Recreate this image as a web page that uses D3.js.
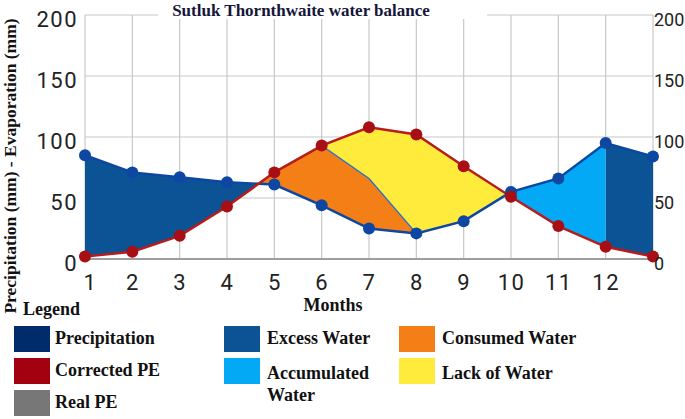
<!DOCTYPE html>
<html lang="en">
<head>
  <meta charset="UTF-8">
  <title>Sutluk Thornthwaite water balance</title>
  <script src="https://d3js.org/d3.v7.min.js"></script>
  <style>
    body { margin: 0; background: white; }
    .serif { font-family: "Liberation Serif", "DejaVu Serif", serif; font-weight: bold; }
    .tick text { font-family: Roboto, sans-serif; font-size: 22px; fill: #222; letter-spacing: 1.5px; }
    .right .tick text { font-size: 18px; letter-spacing: 0; }
  </style>
</head>
<body>
<script>
  // month 13 closes the year again at January
  var months = [1, 2, 3, 4, 5, 6, 7, 8, 9, 10, 11, 12, 13];
  var monthLabels = [1, 2, 3, 4, 5, 6, 7, 8, 9, 10, 11, 12];
  var yTicks = [0, 50, 100, 150, 200];

  var precipitation = [85, 71, 67, 63, 61, 44, 25, 21, 31, 55, 66, 95, 84];
  var correctedPE   = [2, 6, 19, 43, 71, 93, 108, 102, 76, 51, 27, 10, 2];
  var realPE        = [2, 6, 19, 43, 71, 93, 66, 21, 31, 51, 27, 10, 2];
  var deficitMonths = [6, 7, 8];

  var excessRanges = [[1, 6], [12, 13]];
  var accumulatedRanges = [[6, 12]];

  var legendItems = [
    { label: ["Precipitation"], color: "#002c6b", col: 0, row: 0 },
    { label: ["Corrected PE"], color: "#a30010", col: 0, row: 1 },
    { label: ["Real PE"], color: "#777777", col: 0, row: 2 },
    { label: ["Excess Water"], color: "#0b5394", col: 1, row: 0 },
    { label: ["Accumulated", "Water"], color: "#03a9f4", col: 1, row: 1 },
    { label: ["Consumed Water"], color: "#f57f17", col: 2, row: 0 },
    { label: ["Lack of Water"], color: "#ffeb3b", col: 2, row: 1 }
  ];

  var width = 685, height = 419;
  var svg = d3.select("body").append("svg")
    .attr("width", width)
    .attr("height", height);

  var x = d3.scaleLinear().domain([1, 13]).range([85, 653]);
  var y = d3.scaleLinear().domain([0, 200]).range([259, 15]);

  var data = months.map((m, i) => ({ m: m, p: precipitation[i], pe: correctedPE[i], real: realPE[i] }));

  // grid
  var grid = svg.append("g").attr("stroke", "#c8c8c8").attr("stroke-width", 1.2);
  grid.selectAll("line.h").data(yTicks.slice(1)).enter().append("line")
    .attr("x1", x(1)).attr("x2", x(13))
    .attr("y1", d => y(d)).attr("y2", d => y(d));
  grid.selectAll("line.v").data(months).enter().append("line")
    .attr("x1", d => x(d)).attr("x2", d => x(d))
    .attr("y1", y(200)).attr("y2", y(0));

  // clip helpers
  var defs = svg.append("defs");
  function areaBelow(key) {
    return d3.area().x(d => x(d.m)).y0(y(0) + 5).y1(d => y(d[key]))(data);
  }
  function areaAbove(key) {
    return d3.area().x(d => x(d.m)).y0(0).y1(d => y(d[key]))(data);
  }
  defs.append("clipPath").attr("id", "aboveP").append("path").attr("d", areaAbove("p"));
  defs.append("clipPath").attr("id", "abovePE").append("path").attr("d", areaAbove("pe"));
  defs.append("clipPath").attr("id", "aboveReal").append("path").attr("d", areaAbove("real"));

  function rangeClip(id, ranges) {
    defs.append("clipPath").attr("id", id).selectAll("rect").data(ranges).enter().append("rect")
      .attr("x", d => x(d[0])).attr("width", d => x(d[1]) - x(d[0]))
      .attr("y", 0).attr("height", height);
  }
  rangeClip("excessRange", excessRanges);
  rangeClip("accumRange", accumulatedRanges);

  // excess water
  svg.append("g").attr("clip-path", "url(#excessRange)")
    .append("path").attr("d", areaBelow("p")).attr("clip-path", "url(#abovePE)")
    .attr("fill", "#0b5394");

  // accumulated water
  svg.append("g").attr("clip-path", "url(#accumRange)")
    .append("path").attr("d", areaBelow("p")).attr("clip-path", "url(#abovePE)")
    .attr("fill", "#03a9f4");

  // consumed water
  svg.append("path").attr("d", areaBelow("real")).attr("clip-path", "url(#aboveP)")
    .attr("fill", "#f57f17");

  // lack of water
  svg.append("g").attr("clip-path", "url(#aboveP)")
    .append("path").attr("d", areaBelow("pe")).attr("clip-path", "url(#aboveReal)")
    .attr("fill", "#ffeb3b");

  // x axis line
  svg.append("line")
    .attr("x1", x(1)).attr("x2", x(13))
    .attr("y1", y(0)).attr("y2", y(0))
    .attr("stroke", "#9e9e9e").attr("stroke-width", 2);

  // real PE line
  svg.append("path")
    .datum(data.filter(d => deficitMonths.includes(d.m)))
    .attr("fill", "none")
    .attr("stroke", "#1e6fd0")
    .attr("stroke-width", 1.3)
    .attr("d", d3.line().x(d => x(d.m)).y(d => y(d.real)));

  // lines
  svg.append("path").datum(data)
    .attr("fill", "none").attr("stroke", "#0d47a1").attr("stroke-width", 2.5)
    .attr("d", d3.line().x(d => x(d.m)).y(d => y(d.p)));
  svg.append("path").datum(data)
    .attr("fill", "none").attr("stroke", "#b71c1c").attr("stroke-width", 2.5)
    .attr("d", d3.line().x(d => x(d.m)).y(d => y(d.pe)));

  svg.selectAll("circle.p").data(data).enter().append("circle")
    .attr("cx", d => x(d.m)).attr("cy", d => y(d.p)).attr("r", 6)
    .attr("fill", "#0d47a1");
  svg.selectAll("circle.pe").data(data).enter().append("circle")
    .attr("cx", d => x(d.m)).attr("cy", d => y(d.pe)).attr("r", 6)
    .attr("fill", "#a80f14");

  // axes labels
  svg.append("g")
    .attr("transform", `translate(${x(1)},0)`)
    .call(d3.axisLeft(y).tickValues(yTicks).tickSize(0).tickPadding(7))
    .call(g => g.select(".domain").remove())
    .selectAll("text").attr("dy", "0.52em");

  svg.append("g")
    .attr("class", "right")
    .attr("transform", `translate(${x(13)},0)`)
    .call(d3.axisRight(y).tickValues(yTicks).tickSize(0).tickPadding(1))
    .call(g => g.select(".domain").remove())
    .selectAll("text").attr("dy", "0.6em");

  svg.append("g")
    .attr("transform", `translate(0,${y(0)})`)
    .call(d3.axisBottom(x).tickValues(monthLabels).tickSize(0).tickPadding(15))
    .call(g => g.select(".domain").remove())
    .selectAll("text").filter(d => d === 1).attr("dx", 5);

  // title
  svg.append("rect").attr("x", 158).attr("y", 0).attr("width", 329).attr("height", 19).attr("fill", "white");
  svg.append("text").attr("class", "serif")
    .attr("x", 301).attr("y", 15.5)
    .attr("text-anchor", "middle")
    .style("font-size", "17px")
    .attr("fill", "#16163a")
    .text("Sutluk Thornthwaite water balance");

  svg.append("text").attr("class", "serif")
    .attr("transform", "translate(16,166) rotate(-90)")
    .attr("text-anchor", "middle")
    .style("font-size", "17.5px")
    .attr("fill", "#111")
    .text("Precipitation (mm) - Evaporation (mm)");

  svg.append("text").attr("class", "serif")
    .attr("x", 333).attr("y", 311)
    .attr("text-anchor", "middle")
    .style("font-size", "18px")
    .attr("fill", "#111")
    .text("Months");

  // legend
  svg.append("text").attr("class", "serif")
    .attr("x", 23).attr("y", 315)
    .style("font-size", "18px")
    .attr("fill", "#111")
    .text("Legend");

  var colX = [14, 224, 399];
  var rowY = [326, 358, 390];
  var legend = svg.selectAll("g.legend").data(legendItems).enter().append("g")
    .attr("transform", d => `translate(${colX[d.col]},${rowY[d.row]})`);
  legend.append("rect")
    .attr("width", 36).attr("height", 26)
    .attr("fill", d => d.color);
  legend.append("text").attr("class", "serif")
    .attr("x", d => d.col === 0 ? 41 : 43)
    .attr("y", d => d.row === 1 && d.col > 0 ? 21 : 18)
    .style("font-size", "18px")
    .attr("fill", "#111")
    .selectAll("tspan").data(d => d.label).enter().append("tspan")
    .attr("x", function() { return this.parentNode.getAttribute("x"); })
    .attr("dy", (d, i) => i === 0 ? 0 : 22)
    .text(d => d);
</script>
</body>
</html>
